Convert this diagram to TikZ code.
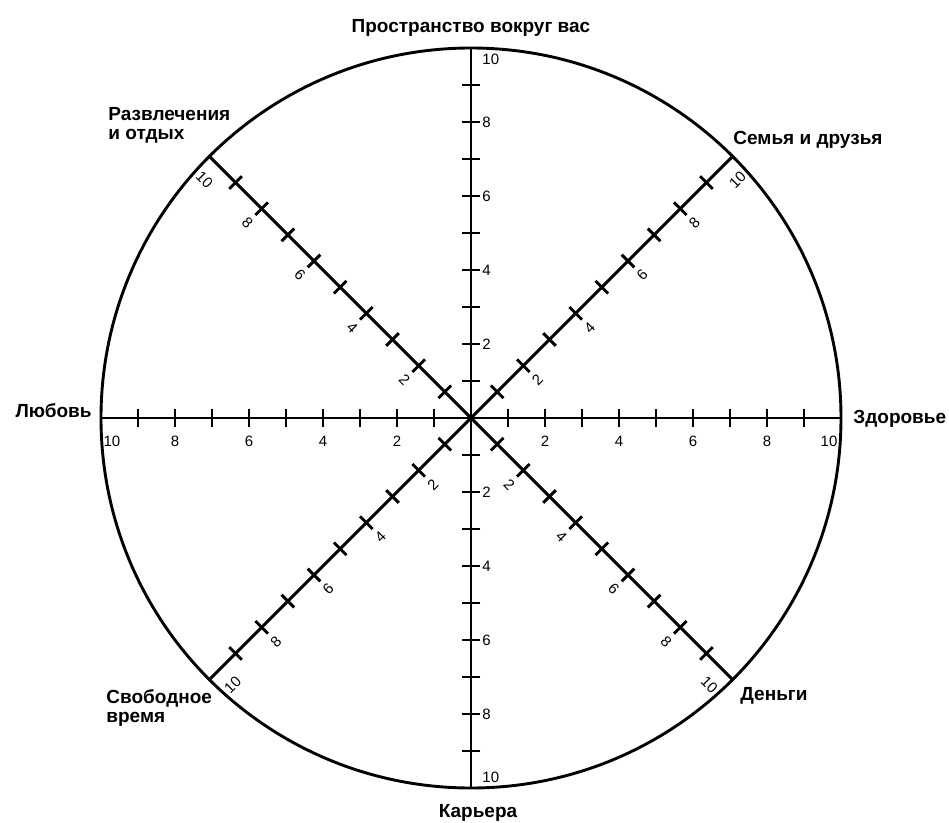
\documentclass[tikz,border=0pt]{standalone}
\usepackage{fontspec}
\setmainfont{Liberation Sans}
\usetikzlibrary{calc}
\begin{document}
\begin{tikzpicture}[x=1pt, y=1pt, line width=2.9pt,
  num/.style={font=\fontsize{15}{17}\selectfont, inner sep=0pt},
  lbl/.style={font=\fontsize{19}{19}\selectfont\bfseries, inner sep=0pt, align=left}]
\useasboundingbox (-471,-404) rectangle (478,418);
\coordinate (O) at (0,0);
\draw (O) circle (370);
% axes with ticks
\foreach \a in {0,45,...,315} {
  \draw (O) -- (\a:370);
  \foreach \k in {1,...,9}
    \draw ($(O)+(\a:37*\k)+(\a+90:9)$) -- ($(O)+(\a:37*\k)+(\a-90:9)$);
}
% numbers on the straight axes
\foreach \k in {2,4,6,8} {
  \node[num, anchor=base] at (37*\k,-28) {\k};
  \node[num, anchor=base] at (-37*\k,-28) {\k};
  \node[num, anchor=west] at (10,37*\k) {\k};
  \node[num, anchor=west] at (10,-37*\k) {\k};
}
\node[num, anchor=base] at (358,-28) {10};
\node[num, anchor=base] at (-359,-28) {10};
\node[num, anchor=west] at (10,359) {10};
\node[num, anchor=west] at (10,-359) {10};
% numbers on the diagonals
\foreach \a/\p/\r in {45/-45/45, 135/-135/-45, 225/-45/45, -45/-135/-45} {
  \foreach \k in {2,4,6,8}
    \node[num, rotate=\r] at ($(O)+(\a:37*\k)+(\p:20)$) {\k};
  \node[num, rotate=\r] at ($(O)+(\a:357)+(\p:20)$) {10};
}
% sectors
\node[lbl, anchor=base] (space) at (0,385) {Пространство вокруг вас};
\node[lbl, anchor=west] (fun) at (-364,293) {Развлечения\\и отдых};
\node[lbl, anchor=base west] (family) at (261,273) {Семья и друзья};
\node[lbl, anchor=base east] (love) at (-378,1) {Любовь};
\node[lbl, anchor=base west] (health) at (381,-5) {Здоровье};
\node[lbl, anchor=west] (free) at (-366,-290) {Свободное\\время};
\node[lbl, anchor=base west] (money) at (268,-282) {Деньги};
\node[lbl, anchor=base] (career) at (7,-399) {Карьера};
\end{tikzpicture}
\end{document}
